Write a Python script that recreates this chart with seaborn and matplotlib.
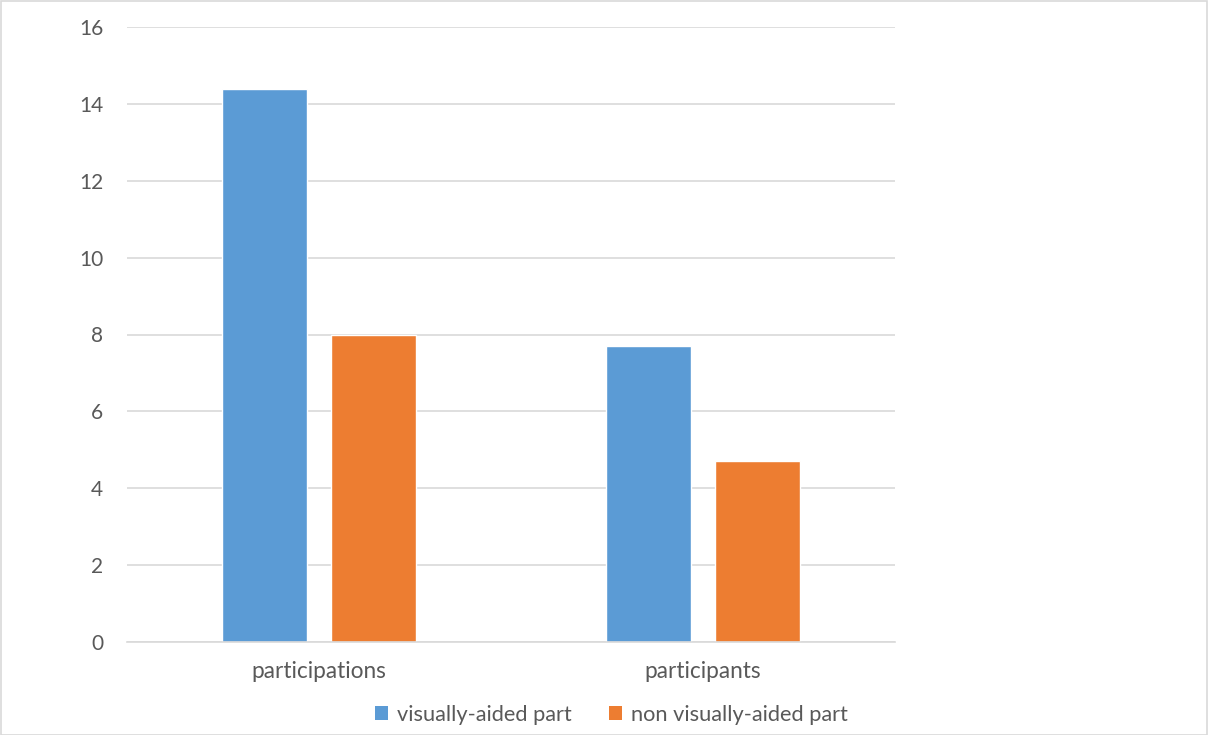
import matplotlib
matplotlib.use("Agg")
import matplotlib.pyplot as plt
import seaborn as sns
import pandas as pd
from matplotlib.patches import Rectangle

categories = ["participations", "participants"]
series_names = ["visually-aided part", "non visually-aided part"]
visually_aided = [14.4, 7.7]
non_visually_aided = [8.0, 4.7]
y_ticks = [0, 2, 4, 6, 8, 10, 12, 14, 16]

df = pd.DataFrame({
    "category": categories * 2,
    "series": [series_names[0]] * 2 + [series_names[1]] * 2,
    "value": visually_aided + non_visually_aided,
})

sns.set_theme(style="white")
plt.rcParams["font.family"] = ["Lato", "DejaVu Sans"]

text_color = "#595959"
grid_color = "#D9D9D9"
palette = ["#5B9BD5", "#ED7D31"]

fig = plt.figure(figsize=(12.08, 7.35), dpi=100)
ax = fig.add_axes([127 / 1208, 1 - 642 / 735, (895 - 127) / 1208, (642 - 27) / 735])

sns.barplot(data=df, x="category", y="value", hue="series", order=categories,
            hue_order=series_names, palette=palette, width=0.568, gap=0.22,
            saturation=1, ax=ax, legend=False)

ax.set_xlim(-0.5, 1.5)
ax.set_ylim(0, 16)
ax.set_yticks(y_ticks)
ax.yaxis.grid(True, color=grid_color, linewidth=1.2)
ax.set_axisbelow(True)
for s in ["top", "right", "left"]:
    ax.spines[s].set_visible(False)
ax.spines["bottom"].set_color(grid_color)
ax.spines["bottom"].set_linewidth(1.2)
ax.tick_params(axis="y", length=0, pad=17, labelsize=15, labelcolor=text_color)
ax.tick_params(axis="x", length=0, pad=14, labelsize=16.3, labelcolor=text_color)
ax.set_xlabel("")
ax.set_ylabel("")

handles = [Rectangle((0, 0), 1, 1, facecolor=c, edgecolor="none") for c in palette]
fig.legend(handles, series_names, loc="center", bbox_to_anchor=(0.506, 1 - 715 / 735),
           ncol=2, frameon=False, fontsize=15.7, labelcolor=text_color,
           handlelength=0.6, handleheight=0.6, handletextpad=0.4, columnspacing=1.7)

fig.patches.append(Rectangle((0.5 / 1208, 0.5 / 735), 1 - 1.5 / 1208, 1 - 1.5 / 735,
                             transform=fig.transFigure, fill=False,
                             edgecolor=grid_color, linewidth=1.2))

fig.savefig("out.png", dpi=100)
